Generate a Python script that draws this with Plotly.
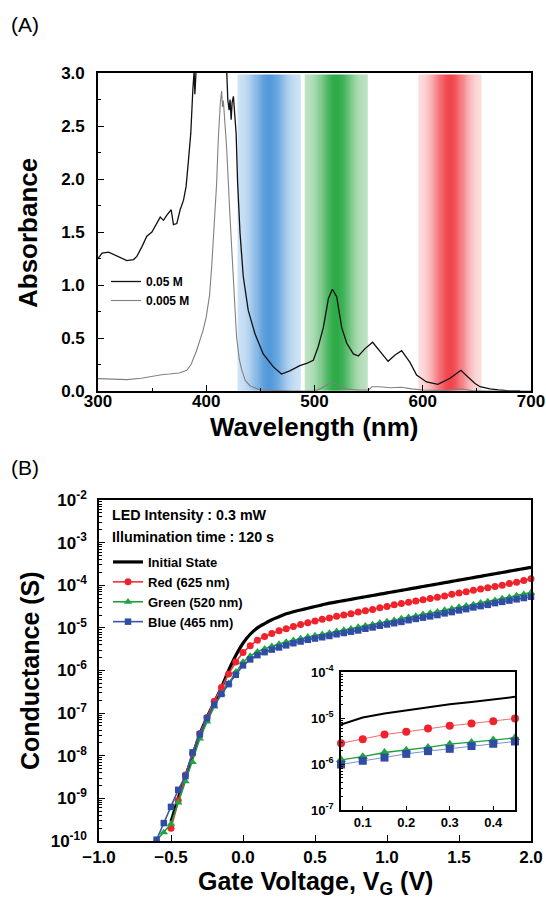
import numpy as np
import plotly.graph_objects as go

# ---------------- Panel (A) data: absorbance spectra ----------------
wl_005M = [300, 303.7, 309.8, 316, 322, 326.7, 332.8, 335.9, 340.5, 345.1, 349.8, 354.4,
           357.5, 360.5, 363.6, 367.6, 369.7, 372.8, 375.9, 379, 381.4, 383.6, 385.7,
           387.6, 388.8, 389.5, 390.2, 391, 392, 405, 418, 418.9, 419.9, 421.1, 422,
           423, 423.9, 425.1, 426.4, 427.6, 429, 431.2, 434.2, 438.8, 445, 452.6,
           461.8, 469.5, 477.2, 486.4, 492.8, 498.9, 503.5, 508.2, 512.8, 516.5,
           520.5, 525.1, 529.8, 535.9, 540.5, 546.7, 553.7, 560.5, 568, 574.4, 580.5,
           588.2, 594.3, 603.5, 614, 625.2, 635.3, 642, 648.3, 653, 662.1, 670, 680.6, 690]
abs_005M = [1.25, 1.30, 1.31, 1.28, 1.25, 1.23, 1.24, 1.27, 1.36, 1.46, 1.50, 1.58,
            1.64, 1.61, 1.66, 1.71, 1.57, 1.58, 1.71, 1.80, 1.93, 2.18, 2.43,
            2.84, 3.02, 2.80, 2.95, 3.10, 3.30, 3.30, 3.30, 3.02, 2.75, 2.65, 2.75,
            2.56, 2.72, 2.78, 2.59, 2.43, 1.96, 1.49, 1.08, 0.76, 0.54, 0.35,
            0.23, 0.16, 0.19, 0.24, 0.26, 0.29, 0.42, 0.60, 0.87, 0.96,
            0.89, 0.60, 0.45, 0.35, 0.33, 0.40, 0.46, 0.37, 0.28, 0.34, 0.38,
            0.27, 0.15, 0.085, 0.063, 0.12, 0.195, 0.13, 0.07, 0.04, 0.02, 0.01, 0.0, 0.0]

wl_0005M = [300, 310, 320, 327, 340, 350, 360, 366, 375, 382, 386, 391, 394, 397, 400,
            403, 405, 407.5, 409.6, 411, 412, 413, 414.2, 415, 415.8, 417, 418.9,
            421.9, 425, 428, 430.5, 432.8, 436, 440.4, 449.7, 460, 480, 500, 505,
            510, 516, 522, 528, 540, 550, 553, 560, 570, 580, 590, 600, 620, 635,
            645, 660, 700]
abs_0005M = [0.117, 0.115, 0.108, 0.107, 0.12, 0.14, 0.155, 0.16, 0.17, 0.195, 0.25,
             0.38, 0.48, 0.57, 0.70, 0.90, 1.17, 1.55, 1.96, 2.35, 2.62, 2.72, 2.83,
             2.68, 2.74, 2.55, 2.28, 1.65, 1.01, 0.51, 0.30, 0.20, 0.10, 0.05, 0.01,
             0.005, 0.0, 0.0, 0.02, 0.05, 0.08, 0.06, 0.02, 0.01, 0.01, 0.04, 0.04,
             0.03, 0.035, 0.02, 0.01, 0.005, 0.02, 0.005, 0.0, 0.0]

# LED illumination bands (nm)
band_names = ["Blue", "Green", "Red"]
band_center_nm = [458, 520, 625]
band_halfwidth_nm = [29, 29, 29]

# ---------------- Panel (B) data: conductance vs gate voltage ----------------
vg_long = [-0.60, -0.55, -0.50, -0.45, -0.40, -0.35, -0.30, -0.25, -0.20, -0.15, -0.10,
           -0.05, 0.00, 0.05, 0.10, 0.15, 0.20, 0.25, 0.30, 0.35, 0.40, 0.45, 0.50,
           0.55, 0.60, 0.65, 0.70, 0.75, 0.80, 0.85, 0.90, 0.95, 1.00, 1.05, 1.10,
           1.15, 1.20, 1.25, 1.30, 1.35, 1.40, 1.45, 1.50, 1.55, 1.60, 1.65, 1.70,
           1.75, 1.80, 1.85, 1.90, 1.95, 2.00]
vg_short = vg_long[2:]

# log10 of conductance (S)
log_initial = [-9.55, -9.0, -8.5, -8.0, -7.5, -7.1, -6.75, -6.4, -6.0, -5.65, -5.36,
               -5.15, -5.0, -4.9, -4.81, -4.74, -4.67, -4.62, -4.58, -4.54, -4.5,
               -4.46, -4.42, -4.39, -4.36, -4.33, -4.30, -4.27, -4.24, -4.21, -4.18,
               -4.15, -4.12, -4.09, -4.06, -4.03, -4.0, -3.97, -3.94, -3.91, -3.88,
               -3.85, -3.82, -3.79, -3.76, -3.73, -3.70, -3.67, -3.64, -3.61, -3.58]
log_red = [-9.7, -9.05, -8.45, -7.95, -7.48, -7.1, -6.72, -6.4, -6.08, -5.8, -5.58,
           -5.42, -5.29, -5.2, -5.13, -5.07, -5.02, -4.97, -4.92, -4.88, -4.84,
           -4.8, -4.77, -4.73, -4.70, -4.67, -4.63, -4.6, -4.57, -4.53, -4.5,
           -4.46, -4.43, -4.4, -4.37, -4.34, -4.31, -4.28, -4.25, -4.21, -4.18,
           -4.15, -4.12, -4.09, -4.06, -4.03, -4.0, -3.96, -3.93, -3.89, -3.85]
log_green = [-9.98, -9.8, -9.6, -9.1, -8.6, -8.15, -7.6, -7.2, -6.85, -6.55, -6.3, -6.03, -5.8,
             -5.66, -5.56, -5.49, -5.43, -5.38, -5.33, -5.29, -5.25, -5.21, -5.18,
             -5.15, -5.12, -5.08, -5.05, -5.02, -4.98, -4.95, -4.92, -4.88, -4.85,
             -4.82, -4.78, -4.75, -4.72, -4.68, -4.65, -4.62, -4.58, -4.55, -4.51,
             -4.48, -4.45, -4.41, -4.38, -4.35, -4.31, -4.28, -4.24, -4.21, -4.17]
log_blue = [-9.97, -9.58, -9.2, -8.8, -8.48, -7.92, -7.5, -7.12, -6.8, -6.55, -6.32, -6.1, -5.88,
            -5.74, -5.64, -5.57, -5.51, -5.46, -5.41, -5.36, -5.32, -5.28, -5.25,
            -5.22, -5.19, -5.15, -5.12, -5.09, -5.06, -5.02, -4.99, -4.95, -4.92,
            -4.89, -4.86, -4.82, -4.79, -4.76, -4.73, -4.70, -4.66, -4.63, -4.59,
            -4.56, -4.52, -4.49, -4.46, -4.42, -4.39, -4.36, -4.33, -4.30, -4.27]

# inset (0.05 - 0.45 V)
vg_inset = [0.05, 0.10, 0.15, 0.20, 0.25, 0.30, 0.35, 0.40, 0.45]
log_inset_initial = [-5.14, -4.99, -4.90, -4.83, -4.76, -4.70, -4.65, -4.59, -4.54]
log_inset_red = [-5.55, -5.46, -5.36, -5.30, -5.23, -5.17, -5.12, -5.07, -5.01]
log_inset_green = [-5.91, -5.84, -5.75, -5.70, -5.64, -5.57, -5.53, -5.48, -5.43]
log_inset_blue = [-6.01, -5.93, -5.86, -5.78, -5.72, -5.67, -5.61, -5.56, -5.51]

main_exponents = [-10, -9, -8, -7, -6, -5, -4, -3, -2]
inset_exponents = [-7, -6, -5, -4]

# ---------------- styling ----------------
W, H = 546, 898
FONT = "Liberation Sans"
band_light = ["#d3e6f6", "#c6e5ca", "#fde3e4"]
band_dark = ["#5399da", "#2eab47", "#f0464e"]


def px(x):
    return x / W


def py(y):
    return 1 - y / H


def S(logs):
    return [10 ** v for v in logs]


fig = go.Figure()

# bands (opaque under the spectra)
band_layers = []
for c, hw, lc, dc in zip(band_center_nm, band_halfwidth_nm, band_light, band_dark):
    edges = np.linspace(c - hw, c + hw, 61)
    mids = 0.5 * (edges[:-1] + edges[1:])
    prof = np.exp(-((mids - c) / (0.55 * hw)) ** 2)
    band_layers.append((edges, prof, lc, dc))
    fig.add_trace(go.Heatmap(x=edges, y=[0, 2.985], z=[prof], zmin=0, zmax=1,
                             colorscale=[[0, lc], [1, dc]], showscale=False,
                             hoverinfo="skip", xaxis="x", yaxis="y"))

fig.add_trace(go.Scatter(x=wl_005M, y=abs_005M, mode="lines", name="0.05 M",
                         line=dict(color="#111111", width=1.3), legend="legend",
                         xaxis="x", yaxis="y"))
fig.add_trace(go.Scatter(x=wl_0005M, y=abs_0005M, mode="lines", name="0.005 M",
                         line=dict(color="#808080", width=1.1), legend="legend",
                         xaxis="x", yaxis="y"))

# translucent copy of bands on top (tints the spectra inside the bands)
for edges, prof, lc, dc in band_layers:
    fig.add_trace(go.Heatmap(x=edges, y=[0, 2.985], z=[prof], zmin=0, zmax=1,
                             colorscale=[[0, lc], [1, dc]], showscale=False,
                             opacity=0.45, hoverinfo="skip", xaxis="x", yaxis="y"))

# Panel B main curves
fig.add_trace(go.Scatter(x=vg_short, y=S(log_initial), mode="lines", name="Initial State",
                         line=dict(color="black", width=3.2, shape="spline"),
                         legend="legend2", xaxis="x2", yaxis="y2", cliponaxis=False))
fig.add_trace(go.Scatter(x=vg_short, y=S(log_red), mode="lines+markers", name="Red (625 nm)",
                         line=dict(color="#f0323a", width=1.6),
                         marker=dict(symbol="circle", size=7, color="#f0232c"),
                         legend="legend2", xaxis="x2", yaxis="y2", cliponaxis=False))
fig.add_trace(go.Scatter(x=vg_long, y=S(log_green), mode="lines+markers", name="Green (520 nm)",
                         line=dict(color="#1b9e3c", width=1.6),
                         marker=dict(symbol="triangle-up", size=7.5, color="#1fa540"),
                         legend="legend2", xaxis="x2", yaxis="y2", cliponaxis=False))
fig.add_trace(go.Scatter(x=vg_long, y=S(log_blue), mode="lines+markers", name="Blue (465 nm)",
                         line=dict(color="#3a55ad", width=1.6),
                         marker=dict(symbol="square", size=6.5, color="#2f4ea3"),
                         legend="legend2", xaxis="x2", yaxis="y2", cliponaxis=False))

# inset
fig.add_trace(go.Scatter(x=vg_inset, y=S(log_inset_initial), mode="lines",
                         line=dict(color="black", width=2), showlegend=False,
                         xaxis="x3", yaxis="y3"))
fig.add_trace(go.Scatter(x=vg_inset, y=S(log_inset_red), mode="lines+markers",
                         line=dict(color="#f26a72", width=1),
                         marker=dict(symbol="circle", size=8, color="#f0232c"),
                         showlegend=False, xaxis="x3", yaxis="y3", cliponaxis=False))
fig.add_trace(go.Scatter(x=vg_inset, y=S(log_inset_green), mode="lines+markers",
                         line=dict(color="#1b9e3c", width=1.3),
                         marker=dict(symbol="triangle-up", size=9, color="#1fa540"),
                         showlegend=False, xaxis="x3", yaxis="y3", cliponaxis=False))
fig.add_trace(go.Scatter(x=vg_inset, y=S(log_inset_blue), mode="lines+markers",
                         line=dict(color="#7d8fd6", width=1),
                         marker=dict(symbol="square", size=8, color="#2f4ea3"),
                         showlegend=False, xaxis="x3", yaxis="y3", cliponaxis=False))

tickfont = dict(family=FONT, size=17, color="black", weight="bold")
axis_common = dict(showline=True, linecolor="black", linewidth=1.6, mirror=True,
                   ticks="inside", tickcolor="black", tickwidth=1.4, ticklen=6,
                   showgrid=False, zeroline=False, tickfont=tickfont, automargin=False)
inset_font = dict(family=FONT, size=13, color="black", weight="bold")

fig.update_layout(
    width=W, height=H, margin=dict(l=0, r=0, t=0, b=0, autoexpand=False),
    paper_bgcolor="white", plot_bgcolor="white",
    xaxis=dict(domain=[px(98), px(531)], anchor="y", range=[300, 700], dtick=100,
               tick0=300, ticklabelstandoff=-6,
               minor=dict(dtick=50, ticks="inside", ticklen=3, tickcolor="black"),
               **axis_common),
    yaxis=dict(domain=[py(391), py(73)], anchor="x", range=[0, 3], dtick=0.5,
               tickformat=".1f", ticklabelstandoff=8,
               minor=dict(dtick=0.25, ticks="inside", ticklen=3, tickcolor="black"),
               **axis_common),
    xaxis2=dict(domain=[px(99), px(531)], anchor="y2", range=[-1.0, 2.0], dtick=0.5,
                tick0=-1.0, tickformat=".1f", ticklabelstandoff=0, **axis_common),
    yaxis2=dict(domain=[py(841), py(500)], anchor="x2", type="log", range=[-10, -2],
                tickvals=[10.0 ** e for e in main_exponents],
                ticktext=["10<sup>%d</sup>" % e for e in main_exponents],
                ticklabelstandoff=7,
                minor=dict(dtick="D1", ticks="inside", ticklen=3, tickcolor="black"),
                **axis_common),
    xaxis3=dict(domain=[px(341), px(515)], anchor="y3", range=[0.05, 0.45],
                tickvals=[0.1, 0.2, 0.3, 0.4], ticktext=["0.1", "0.2", "0.3", "0.4"],
                showline=True, linecolor="black", linewidth=1.5, mirror=True,
                ticks="inside", ticklen=4, tickcolor="black", showgrid=False,
                zeroline=False, automargin=False, tickfont=inset_font),
    yaxis3=dict(domain=[py(810), py(672)], anchor="x3", type="log", range=[-7, -4],
                tickvals=[10.0 ** e for e in inset_exponents],
                ticktext=["10<sup>%d</sup>" % e for e in inset_exponents],
                showline=True, linecolor="black", linewidth=1.5, mirror=True,
                ticks="inside", ticklen=4, tickcolor="black", showgrid=False,
                zeroline=False, automargin=False, ticklabelstandoff=3,
                minor=dict(dtick="D1", ticks="inside", ticklen=2, tickcolor="black"),
                tickfont=inset_font),
    legend=dict(x=px(106), y=py(267), xanchor="left", yanchor="top",
                bgcolor="rgba(0,0,0,0)", tracegroupgap=0,
                font=dict(family=FONT, size=12, color="black", weight="bold")),
    legend2=dict(x=px(108), y=py(547), xanchor="left", yanchor="top",
                 bgcolor="rgba(0,0,0,0)", tracegroupgap=0,
                 font=dict(family=FONT, size=13, color="black", weight="bold")),
    showlegend=True,
)

ann_font = dict(family=FONT, color="black", weight="bold")
annotations = [
    dict(text="(A)", x=px(9), y=py(25), xanchor="left", yanchor="middle",
         font=dict(family=FONT, size=21, color="black")),
    dict(text="(B)", x=px(9), y=py(467), xanchor="left", yanchor="middle",
         font=dict(family=FONT, size=21, color="black")),
    dict(text="Absorbance", x=px(28), y=py(233), textangle=-90, xanchor="center",
         yanchor="middle", font=dict(size=26, **ann_font)),
    dict(text="Wavelength (nm)", x=px(314), y=py(427), xanchor="center", yanchor="middle",
         font=dict(size=26, **ann_font)),
    dict(text="Conductance (S)", x=px(30), y=py(671), textangle=-90, xanchor="center",
         yanchor="middle", font=dict(size=25, **ann_font)),
    dict(text="Gate Voltage, V<sub>G</sub> (V)", x=px(315), y=py(883), xanchor="center",
         yanchor="middle", font=dict(size=25, **ann_font)),
    dict(text="LED Intensity : 0.3 mW", x=px(110), y=py(515), xanchor="left",
         yanchor="middle", font=dict(size=14.3, **ann_font)),
    dict(text="Illumination time : 120 s", x=px(110), y=py(537), xanchor="left",
         yanchor="middle", font=dict(size=14.3, **ann_font)),
]
for a in annotations:
    a.update(xref="paper", yref="paper", showarrow=False)
fig.update_layout(annotations=annotations)

fig.write_html("out.html")
